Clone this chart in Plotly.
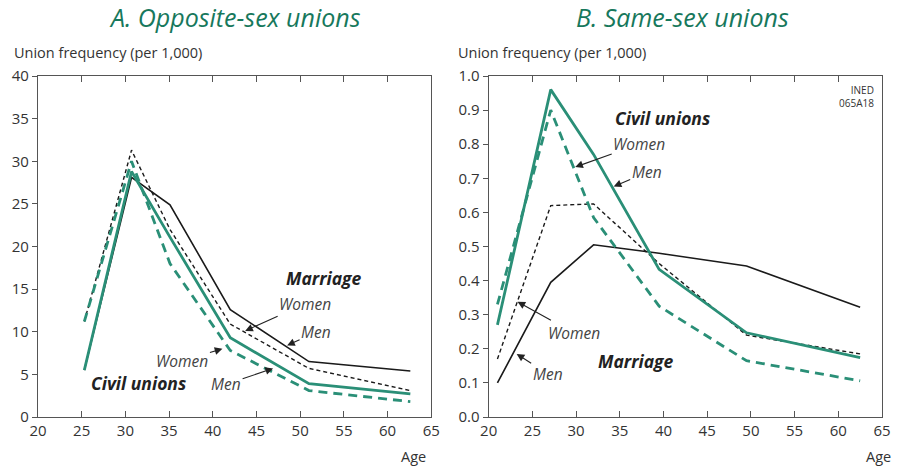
import plotly.graph_objects as go

# ---------------- data ----------------
ages_a = [25.3, 30.7, 35.1, 42.0, 51.0, 62.6]
a_marriage_men = [5.5, 28.1, 24.9, 12.6, 6.5, 5.4]
a_marriage_women = [11.2, 31.3, 22.0, 10.9, 5.7, 3.1]
a_civil_men = [5.5, 28.8, 21.1, 9.3, 3.9, 2.7]
a_civil_women = [11.2, 30.0, 18.0, 7.8, 3.1, 1.8]

ages_b = [21.0, 27.1, 32.0, 39.5, 49.5, 62.5]
b_marriage_men = [0.10, 0.395, 0.505, 0.48, 0.443, 0.322]
b_marriage_women = [0.17, 0.62, 0.625, 0.45, 0.24, 0.185]
b_civil_men = [0.27, 0.96, 0.77, 0.433, 0.247, 0.174]
b_civil_women = [0.33, 0.90, 0.585, 0.325, 0.165, 0.106]

x_ticks = [20, 25, 30, 35, 40, 45, 50, 55, 60, 65]
y_ticks_a = [0, 5, 10, 15, 20, 25, 30, 35, 40]
y_ticks_b = [0.0, 0.1, 0.2, 0.3, 0.4, 0.5, 0.6, 0.7, 0.8, 0.9, 1.0]

GREEN = "#2a8f77"
TITLE_GREEN = "#17785c"
BLACK = "#1a1a1a"
TXT = "#333333"
FONT = "Open Sans"

fig = go.Figure()

def add_set(ages, mm, mw, cm, cw, xa, ya):
    fig.add_trace(go.Scatter(x=ages, y=mm, mode="lines", xaxis=xa, yaxis=ya,
                             line=dict(color=BLACK, width=1.6), showlegend=False))
    fig.add_trace(go.Scatter(x=ages, y=mw, mode="lines", xaxis=xa, yaxis=ya,
                             line=dict(color=BLACK, width=1.4, dash="4px,3px"), showlegend=False))
    fig.add_trace(go.Scatter(x=ages, y=cm, mode="lines", xaxis=xa, yaxis=ya,
                             line=dict(color=GREEN, width=2.8), showlegend=False))
    fig.add_trace(go.Scatter(x=ages, y=cw, mode="lines", xaxis=xa, yaxis=ya,
                             line=dict(color=GREEN, width=2.8, dash="9px,6px"), showlegend=False))

add_set(ages_a, a_marriage_men, a_marriage_women, a_civil_men, a_civil_women, "x", "y")
add_set(ages_b, b_marriage_men, b_marriage_women, b_civil_men, b_civil_women, "x2", "y2")

axis_line = dict(showline=True, linecolor="#555555", linewidth=1.2, mirror=True,
                 showgrid=False, zeroline=False,
                 tickfont=dict(family=FONT, size=15, color=TXT))

xcommon = dict(axis_line, range=[20, 65], tickvals=x_ticks, ticks="inside",
               ticklen=6, tickcolor="#555555", tickwidth=1.2)
xcommon["mirror"] = "ticks"

fig.update_layout(
    width=903, height=469,
    paper_bgcolor="white", plot_bgcolor="white",
    margin=dict(l=33, r=14, t=76, b=52),
    font=dict(family=FONT, color=TXT),
    xaxis=dict(xcommon, domain=[0, 0.466], anchor="y"),
    yaxis=dict(axis_line, range=[0, 40], tickvals=y_ticks_a, ticks="outside",
               ticklen=5, tickcolor="#555555", anchor="x"),
    xaxis2=dict(xcommon, domain=[0.534, 1.0], anchor="y2"),
    yaxis2=dict(axis_line, range=[0, 1.0], tickvals=y_ticks_b, tickformat=".1f",
                ticks="outside", ticklen=5, tickcolor="#555555", anchor="x2"),
)

ann = []
# titles
ann.append(dict(text="<i>A. Opposite-sex unions</i>", xref="paper", yref="paper",
                x=0.233, y=1.0, yshift=59, xanchor="center", yanchor="middle",
                showarrow=False, font=dict(family=FONT, size=25, color=TITLE_GREEN)))
ann.append(dict(text="<i>B. Same-sex unions</i>", xref="paper", yref="paper",
                x=0.764, y=1.0, yshift=59, xanchor="center", yanchor="middle",
                showarrow=False, font=dict(family=FONT, size=25, color=TITLE_GREEN)))
# axis titles
ann.append(dict(text="Union frequency (per 1,000)", xref="x domain", yref="y domain",
                x=0, y=1, xshift=-26, yshift=24, xanchor="left", yanchor="middle",
                showarrow=False, font=dict(family=FONT, size=14.5, color=TXT)))
ann.append(dict(text="Union frequency (per 1,000)", xref="x2 domain", yref="y2 domain",
                x=0, y=1, xshift=-33, yshift=24, xanchor="left", yanchor="middle",
                showarrow=False, font=dict(family=FONT, size=14.5, color=TXT)))
ann.append(dict(text="Age", xref="x domain", yref="y domain", x=1, y=0,
                xshift=-18, yshift=-39, xanchor="center", yanchor="middle",
                showarrow=False, font=dict(family=FONT, size=14.5, color=TXT)))
ann.append(dict(text="Age", xref="x2 domain", yref="y2 domain", x=1, y=0,
                xshift=-4, yshift=-39, xanchor="center", yanchor="middle",
                showarrow=False, font=dict(family=FONT, size=14.5, color=TXT)))
ann.append(dict(text="INED<br>065A18", xref="x2 domain", yref="y2 domain", x=1, y=1,
                xshift=-6, yshift=-5, xanchor="right", yanchor="top", align="right",
                showarrow=False, font=dict(family=FONT, size=10, color=TXT)))

def label(text, xa, ya, x, y, bold=False, size=17.5):
    t = "<b><i>%s</i></b>" % text if bold else "<i>%s</i>" % text
    ann.append(dict(text=t, xref=xa, yref=ya, x=x, y=y, showarrow=False,
                    xanchor="center", yanchor="middle",
                    font=dict(family=FONT, size=size, color="#222222" if bold else "#444444")))

def arrow(text, xa, ya, x, y, ax, ay):
    ann.append(dict(text="<i>%s</i>" % text, xref=xa, yref=ya, x=x, y=y,
                    ax=ax, ay=ay, showarrow=True, arrowhead=2, arrowsize=1.4,
                    arrowwidth=1.1, arrowcolor="#222222", standoff=0,
                    font=dict(family=FONT, size=15.5, color="#444444")))

# panel A labels (positions in data units)
label("Marriage", "x", "y", 52.7, 16.3, bold=True)
label("Civil unions", "x", "y", 31.5, 4.0, bold=True)
arrow("Women", "x", "y", 43.7, 10.1, 60, -27)
arrow("Men", "x", "y", 48.5, 8.4, 29, -13)
arrow("Women", "x", "y", 41.1, 8.0, -40, 12)
arrow("Men", "x", "y", 46.9, 5.7, -47, 16)

# panel B labels
label("Civil unions", "x2", "y2", 39.9, 0.877, bold=True)
label("Marriage", "x2", "y2", 36.8, 0.163, bold=True)
arrow("Women", "x2", "y2", 29.9, 0.733, 64, -23)
arrow("Men", "x2", "y2", 34.3, 0.676, 33, -14)
arrow("Women", "x2", "y2", 23.3, 0.338, 56, 31)
arrow("Men", "x2", "y2", 23.2, 0.185, 31, 20)

fig.update_layout(annotations=ann)
fig.write_html("out.html", config={"displayModeBar": False},
               post_script="document.body.style.margin='0';document.body.style.overflow='hidden';")
